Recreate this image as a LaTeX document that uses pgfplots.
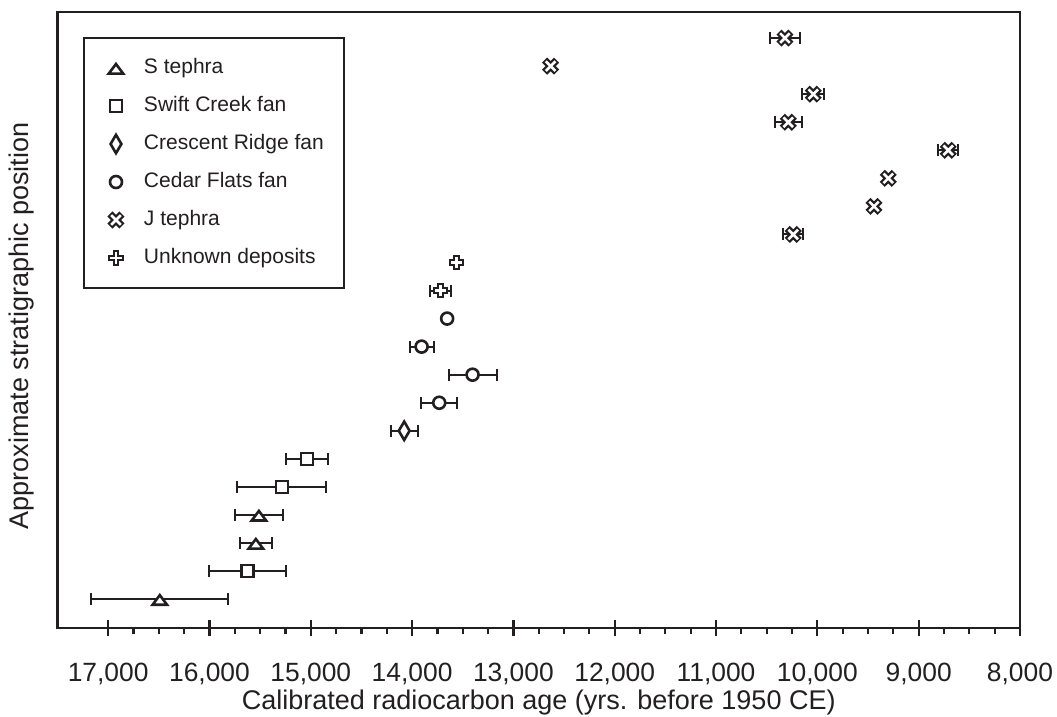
\documentclass[border=0pt]{standalone}
\usepackage{fontspec}
\setmainfont{Liberation Sans}
\usepackage{pgfplots}
\pgfplotsset{compat=1.18}
\definecolor{ink}{RGB}{35,31,32}

\pgfdeclareplotmark{stri}{%
  \pgfpathmoveto{\pgfqpoint{0pt}{2.0pt}}%
  \pgfpathlineto{\pgfqpoint{3.6pt}{-2.8pt}}%
  \pgfpathlineto{\pgfqpoint{-3.6pt}{-2.8pt}}%
  \pgfpathclose
  \pgfusepathqfillstroke}
\pgfdeclareplotmark{sdia}{%
  \pgfpathmoveto{\pgfqpoint{0pt}{4.6pt}}%
  \pgfpathlineto{\pgfqpoint{2.7pt}{0pt}}%
  \pgfpathlineto{\pgfqpoint{0pt}{-4.6pt}}%
  \pgfpathlineto{\pgfqpoint{-2.7pt}{0pt}}%
  \pgfpathclose
  \pgfusepathqfillstroke}
\pgfdeclareplotmark{jx}{%
  \pgfsetbuttcap
  \pgfsetlinewidth{3.6pt}%
  \pgfsetstrokecolor{ink}%
  \pgfpathmoveto{\pgfqpoint{-3.0pt}{-3.0pt}}\pgfpathlineto{\pgfqpoint{3.0pt}{3.0pt}}%
  \pgfpathmoveto{\pgfqpoint{-3.0pt}{3.0pt}}\pgfpathlineto{\pgfqpoint{3.0pt}{-3.0pt}}%
  \pgfusepathqstroke
  \pgfsetlinewidth{1.3pt}%
  \pgfsetstrokecolor{white}%
  \pgfpathmoveto{\pgfqpoint{-2.4pt}{-2.4pt}}\pgfpathlineto{\pgfqpoint{2.4pt}{2.4pt}}%
  \pgfpathmoveto{\pgfqpoint{-2.4pt}{2.4pt}}\pgfpathlineto{\pgfqpoint{2.4pt}{-2.4pt}}%
  \pgfusepathqstroke}
\pgfdeclareplotmark{upl}{%
  \pgfsetrectcap
  \pgfsetlinewidth{3.3pt}%
  \pgfsetstrokecolor{ink}%
  \pgfpathmoveto{\pgfqpoint{-2.3pt}{0pt}}\pgfpathlineto{\pgfqpoint{2.3pt}{0pt}}%
  \pgfpathmoveto{\pgfqpoint{0pt}{-2.3pt}}\pgfpathlineto{\pgfqpoint{0pt}{2.3pt}}%
  \pgfusepathqstroke
  \pgfsetbuttcap
  \pgfsetlinewidth{1.3pt}%
  \pgfsetstrokecolor{white}%
  \pgfpathmoveto{\pgfqpoint{-2.9pt}{0pt}}\pgfpathlineto{\pgfqpoint{2.9pt}{0pt}}%
  \pgfpathmoveto{\pgfqpoint{0pt}{-2.9pt}}\pgfpathlineto{\pgfqpoint{0pt}{2.9pt}}%
  \pgfusepathqstroke}

\pgfplotsset{
  ebar/.style={error bars/.cd, x dir=both, x explicit, error mark=|,
    error bar style={line width=1pt, ink},
    error mark options={mark size=3pt, line width=1pt, ink}},
  omark/.style={only marks, mark options={fill=white, draw=ink, line width=1.3pt}},
}

\begin{document}
\begin{tikzpicture}
\useasboundingbox (-28.75pt,-44.5pt) rectangle (499.75pt,314pt);
\begin{axis}[
  at={(0,0)}, anchor=south west,
  scale only axis, width=481.25pt, height=308pt,
  x dir=reverse, xmin=8000, xmax=17500, ymin=-0.03, ymax=21.93,
  xtick={8000,9000,...,17000}, minor x tick num=3,
  scaled x ticks=false,
  ytick=\empty,
  xtick pos=lower,
  tick align=center,
  major tick length=8.4pt, minor tick length=3.2pt,
  every tick/.style={line width=1.1pt, ink},
  every minor tick/.append style={yshift=-1.6pt},
  axis line style={line width=1.2pt, ink},
  /pgf/number format/assume math mode=true,
  /pgf/number format/1000 sep={,},
  xticklabel style={font=\fontsize{13.2}{15}\selectfont, text=ink, yshift=-10pt},
  xlabel={Calibrated radiocarbon age (yrs. before 1950 CE)},
  ylabel={Approximate stratigraphic position},
  label style={font=\fontsize{13.5}{16}\selectfont, text=ink},
  xlabel style={at={(axis description cs:0.5,0)}, anchor=base, yshift=-41pt},
  ylabel style={at={(axis description cs:-0.0369,0.49)}, anchor=center},
  legend style={at={(axis description cs:0.0265,0.9594)}, anchor=north west,
    draw=ink, line width=1pt, font=\fontsize{10.5}{12}\selectfont, text=ink,
    inner xsep=8pt, inner ysep=10pt, row sep=9pt,
    nodes={text height=7.5pt, text depth=2.5pt, inner ysep=0pt}},
  legend image code/.code={%
    \path[draw=none, fill=none] (0pt,0pt) -- (20pt,0pt);
    \draw[#1] plot[only marks] coordinates {(8pt,0pt)};},
  legend cell align=left,
  clip=false,
]
\addplot[omark, mark=stri, ebar] coordinates {
  (16490,1) +- (677,0)
  (15542,3) +- (161,0)
  (15512,4) +- (239,0)
};
\addlegendentry{S tephra}
\addplot[omark, mark=square*, mark size=3pt, ebar] coordinates {
  (15624,2) +- (384,0)
  (15285,5) +- (440,0)
  (15038,6) +- (210,0)
};
\addlegendentry{Swift Creek fan}
\addplot[omark, mark=sdia, ebar] coordinates {
  (14078,7) +- (135,0)
};
\addlegendentry{Crescent Ridge fan}
\addplot[omark, mark=*, mark size=3pt, ebar] coordinates {
  (13732,8) +- (178,0)
  (13403,9) +- (237,0)
  (13906,10) +- (118,0)
};
\addlegendentry{Cedar Flats fan}
\addplot[only marks, mark=jx, ebar] coordinates {
  (10238,14) +- (99,0)
  (8708,17) +- (99,0)
  (10287,18) +- (134,0)
  (10040,19) +- (110,0)
  (10320,21) +- (148,0)
};
\addlegendentry{J tephra}
\addplot[only marks, mark=upl, ebar] coordinates {
  (13719,12) +- (100,0)
};
\addlegendentry{Unknown deposits}
\addplot[omark, mark=*, mark size=3pt, forget plot] coordinates {(13654,11)};
\addplot[only marks, mark=jx, forget plot] coordinates {(9441,15) (9300,16) (12633,20)};
\addplot[only marks, mark=upl, forget plot] coordinates {(13561,13)};
\end{axis}
\end{tikzpicture}
\end{document}
